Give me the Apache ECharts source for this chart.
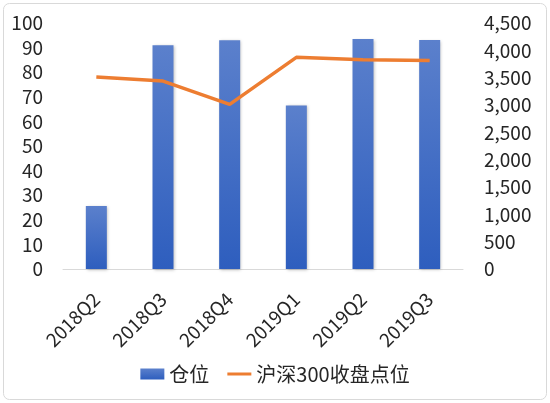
<!DOCTYPE html>
<html>
<head>
<meta charset="utf-8">
<script src="https://cdn.jsdelivr.net/npm/echarts@6/dist/echarts.min.js"></script>
<style>
  html, body { margin: 0; padding: 0; background: #fff; }
  #chart { width: 550px; height: 403px; }
</style>
</head>
<body>
<div id="chart"></div>
<script>
// 数据
const quarters = ['2018Q2', '2018Q3', '2018Q4', '2019Q1', '2019Q2', '2019Q3'];
const positionRatio = [25.6, 91, 93, 66.5, 93.5, 93.1];      // 仓位
const csi300Close = [3510, 3438, 3011, 3872, 3826, 3814];       // 沪深300收盘点位

const chart = echarts.init(document.getElementById('chart'));
const font = '"Noto Sans CJK SC", "Noto Sans", sans-serif';

const option = {
    animation: false,
    textStyle: { fontFamily: font },
    graphic: [{
        type: 'rect',
        shape: { x: 3.5, y: 3.5, width: 543, height: 396, r: 6 },
        style: { fill: 'none', stroke: '#d9d9d9', lineWidth: 1 },
        silent: true
    }],
    grid: { left: 63, right: 87, top: 23, bottom: 134 },
    legend: {
        bottom: 14,
        left: 'center',
        itemGap: 18,
        itemWidth: 24,
        itemHeight: 11,
        textStyle: { fontSize: 20, color: '#262626', fontFamily: font },
        data: [
            { name: '仓位', icon: 'rect' },
            { name: '沪深300收盘点位', icon: 'path://M0,0 L24,0 L24,3 L0,3 Z' }
        ]
    },
    xAxis: {
        type: 'category',
        data: quarters,
        axisLine: { lineStyle: { color: '#d9d9d9' } },
        axisTick: { show: false },
        axisLabel: { rotate: 45, fontSize: 19, color: '#262626', margin: 27 }
    },
    yAxis: [{
        type: 'value',
        min: 0, max: 100, interval: 10,
        splitLine: { show: false },
        axisLabel: { fontSize: 19, color: '#262626', margin: 20 }
    }, {
        type: 'value',
        min: 0, max: 4500, interval: 500,
        splitLine: { show: false },
        axisLabel: {
            fontSize: 19, color: '#262626', margin: 21,
            formatter: v => v.toLocaleString('en-US')
        }
    }],
    series: [{
        name: '仓位',
        type: 'bar',
        data: positionRatio,
        barWidth: 21,
        itemStyle: {
            color: new echarts.graphic.LinearGradient(0, 0, 0, 1, [
                { offset: 0, color: '#5b80cc' },
                { offset: 1, color: '#2e5ebe' }
            ]),
            shadowBlur: 3,
            shadowColor: 'rgba(0,0,0,0.25)',
            shadowOffsetX: 1,
            shadowOffsetY: 1
        }
    }, {
        name: '沪深300收盘点位',
        type: 'line',
        yAxisIndex: 1,
        data: csi300Close,
        symbol: 'none',
        color: '#ed7d31',
        lineStyle: { width: 3.5, color: '#ed7d31' }
    }]
};

chart.setOption(option);
</script>
</body>
</html>
